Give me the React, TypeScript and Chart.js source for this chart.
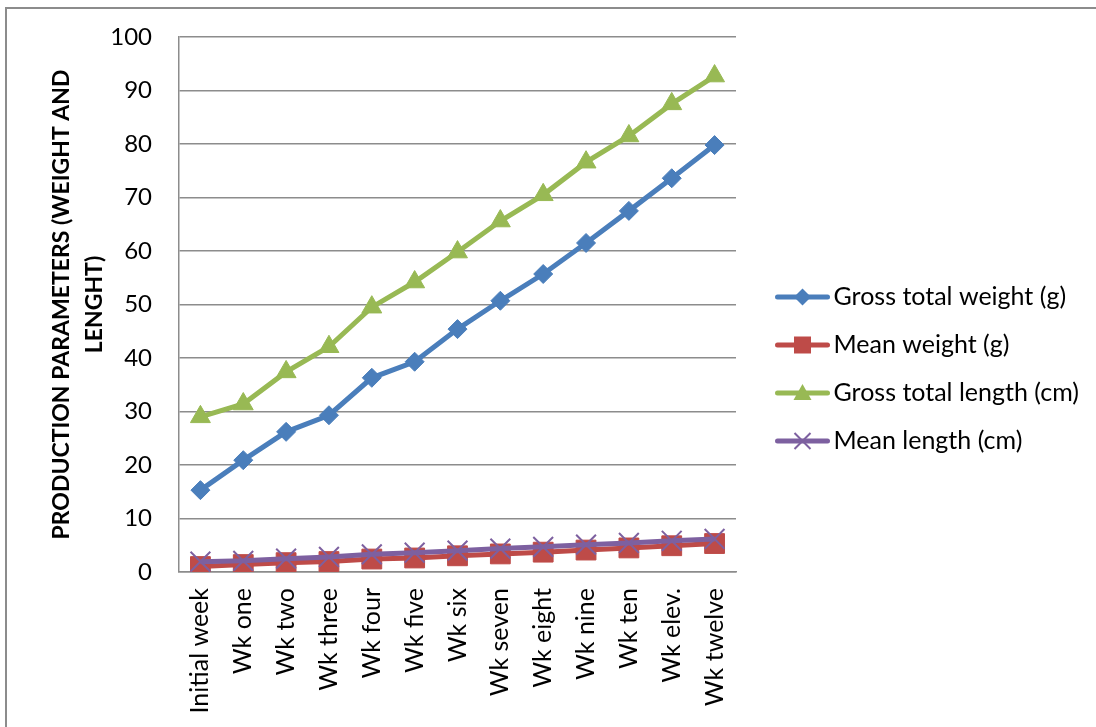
import React, { useEffect, useRef } from "react";
import { Chart, registerables } from "chart.js";

Chart.register(...registerables);

// Weeks of the trial
const weeks = [
  "Initial week", "Wk one", "Wk two", "Wk three", "Wk four", "Wk five", "Wk six",
  "Wk seven", "Wk eight", "Wk nine", "Wk ten", "Wk elev.", "Wk twelve",
];

// Production parameters per week
const grossTotalWeight = [15.3, 20.9, 26.2, 29.3, 36.3, 39.3, 45.4, 50.7, 55.7, 61.5, 67.5, 73.6, 79.8];
const meanWeight = [1.02, 1.39, 1.75, 1.95, 2.42, 2.62, 3.03, 3.38, 3.71, 4.10, 4.50, 4.91, 5.32];
const grossTotalLength = [29.0, 31.4, 37.4, 42.1, 49.5, 54.2, 59.8, 65.6, 70.5, 76.6, 81.5, 87.5, 92.7];
const meanLength = [1.93, 2.09, 2.49, 2.81, 3.30, 3.61, 3.99, 4.37, 4.70, 5.11, 5.43, 5.83, 6.18];

const seriesNames = ["Gross total weight (g)", "Mean weight (g)", "Gross total length (cm)", "Mean length (cm)"];
const yTicks = [0, 10, 20, 30, 40, 50, 60, 70, 80, 90, 100];
const yTitle = ["PRODUCTION PARAMETERS (WEIGHT AND", "LENGHT)"];

const BLUE = "#4A7EBB";
const RED = "#BE4B48";
const GREEN = "#98B954";
const PURPLE = "#7D60A0";
const GRID = "#8C8C8C";

const FONT = "Lato";
const Y_TICK_SIZE = 24;
const X_TICK_SIZE = 25;
const LEGEND_SIZE = 25;

// Layout of the page
const W = 1096;
const H = 727;
const PAD_LEFT = 45;
const PAD_TOP = 37;
const PLOT_LEFT = 179;
const PLOT_RIGHT = 736;
const PLOT_BOTTOM = 572;
const LEGEND_PAD = 23;
const LEGEND_BOX = 62;
const LEGEND_FIRST_Y = 297;
const ICON_W = 84;

// Legend swatch: a short thick line with the series marker in its middle
function makeLegendIcon(color: string, style: string): HTMLCanvasElement {
  const c = document.createElement("canvas");
  c.width = ICON_W;
  c.height = 28;
  const ctx = c.getContext("2d")!;
  const cy = 14;
  ctx.strokeStyle = color;
  ctx.lineWidth = 5;
  ctx.lineCap = "round";
  ctx.beginPath();
  ctx.moveTo(29.5, cy);
  ctx.lineTo(79.5, cy);
  ctx.stroke();
  const cx = 54.5;
  ctx.fillStyle = color;
  ctx.beginPath();
  if (style === "rectRot") {
    ctx.moveTo(cx, cy - 8.5);
    ctx.lineTo(cx + 8.5, cy);
    ctx.lineTo(cx, cy + 8.5);
    ctx.lineTo(cx - 8.5, cy);
    ctx.closePath();
    ctx.fill();
  } else if (style === "rect") {
    ctx.rect(cx - 8.5, cy - 8.5, 17, 17);
    ctx.fill();
  } else if (style === "triangle") {
    ctx.moveTo(cx, cy - 9);
    ctx.lineTo(cx + 9, cy + 7);
    ctx.lineTo(cx - 9, cy + 7);
    ctx.closePath();
    ctx.fill();
  } else {
    ctx.lineWidth = 2;
    ctx.lineCap = "butt";
    ctx.moveTo(cx - 8, cy - 8);
    ctx.lineTo(cx + 8, cy + 8);
    ctx.moveTo(cx + 8, cy - 8);
    ctx.lineTo(cx - 8, cy + 8);
    ctx.stroke();
  }
  return c;
}

export default function App() {
  const canvasRef = useRef<HTMLCanvasElement | null>(null);

  useEffect(() => {
    if (!canvasRef.current) return;

    const colors = [BLUE, RED, GREEN, PURPLE];
    const styles = ["rectRot", "rect", "triangle", "crossRot"];
    const icons = colors.map((c, i) => makeLegendIcon(c, styles[i]));

    // Reserve the right side for the legend so the plot ends at a fixed x
    const m = document.createElement("canvas").getContext("2d")!;
    m.font = `${LEGEND_SIZE}px ${FONT}`;
    const maxText = Math.max(...seriesNames.map((s) => m.measureText(s).width));
    const legendWidth = LEGEND_PAD + LEGEND_BOX + LEGEND_SIZE / 2 + maxText + 10;
    const rightPad = Math.max(0, W - PLOT_RIGHT - legendWidth);

    // Empty legend title used as a spacer above the first entry
    const legendSpacer = LEGEND_FIRST_Y - LEGEND_SIZE / 2 - LEGEND_PAD - PAD_TOP;

    const chart = new Chart(canvasRef.current, {
      type: "line",
      data: {
        labels: weeks,
        datasets: [
          {
            label: seriesNames[0],
            data: grossTotalWeight,
            borderColor: BLUE,
            backgroundColor: BLUE,
            borderWidth: 5,
            pointStyle: "rectRot",
            pointRadius: 9.5,
            pointBorderWidth: 1,
            order: 2,
          },
          {
            label: seriesNames[1],
            data: meanWeight,
            borderColor: RED,
            backgroundColor: RED,
            borderWidth: 5,
            pointStyle: "rect",
            pointRadius: 14,
            pointBorderWidth: 1,
            order: 3,
          },
          {
            label: seriesNames[2],
            data: grossTotalLength,
            borderColor: GREEN,
            backgroundColor: GREEN,
            borderWidth: 5,
            pointStyle: "triangle",
            pointRadius: 11.5,
            pointBorderWidth: 1,
            order: 1,
          },
          {
            label: seriesNames[3],
            data: meanLength,
            borderColor: PURPLE,
            backgroundColor: PURPLE,
            borderWidth: 5,
            pointStyle: "crossRot",
            pointRadius: 14,
            pointBorderWidth: 2,
            order: 0,
          },
        ],
      },
      options: {
        responsive: false,
        animation: false,
        events: [],
        layout: { padding: { left: PAD_LEFT, top: PAD_TOP, bottom: 0, right: rightPad } },
        elements: { line: { tension: 0 } },
        plugins: {
          tooltip: { enabled: false },
          legend: {
            position: "right",
            align: "start",
            maxWidth: 600,
            title: {
              display: true,
              text: "",
              font: { family: FONT, size: 1, lineHeight: 1 },
              padding: { top: legendSpacer - 1, bottom: 0 },
            },
            labels: {
              usePointStyle: true,
              pointStyleWidth: LEGEND_BOX,
              padding: LEGEND_PAD,
              color: "#000",
              font: { family: FONT, size: LEGEND_SIZE },
              generateLabels: () =>
                seriesNames.map((name, i) => ({
                  text: name,
                  fillStyle: colors[i],
                  strokeStyle: colors[i],
                  lineWidth: 0,
                  pointStyle: icons[i],
                  hidden: false,
                  datasetIndex: i,
                  fontColor: "#000",
                })),
            },
          },
        },
        scales: {
          x: {
            type: "category",
            offset: true,
            grid: { display: false, drawTicks: false },
            border: { display: true, color: GRID, width: 1.5 },
            ticks: {
              color: "#000",
              font: { family: FONT, size: X_TICK_SIZE },
              minRotation: 90,
              maxRotation: 90,
              padding: 16,
              autoSkip: false,
            },
            afterFit: (s: any) => {
              s.height = H - PLOT_BOTTOM;
            },
          },
          y: {
            min: 0,
            max: 100,
            afterBuildTicks: (s: any) => {
              s.ticks = yTicks.map((v) => ({ value: v }));
            },
            grid: { color: GRID, lineWidth: 1.5, drawTicks: true, tickLength: 24, tickColor: "rgba(0,0,0,0)" },
            border: { display: true, color: GRID, width: 1.5 },
            ticks: {
              color: "#000",
              font: { family: FONT, size: Y_TICK_SIZE },
              padding: 3,
            },
            title: {
              display: true,
              text: yTitle,
              color: "#000",
              font: { family: FONT, size: 23, weight: "bold", lineHeight: 1.45 },
              padding: 0,
            },
            afterFit: (s: any) => {
              s.width = PLOT_LEFT - PAD_LEFT;
            },
          },
        },
      },
    });

    return () => chart.destroy();
  }, []);

  return (
    <div style={{ position: "fixed", left: 0, top: 0, width: W, height: H, overflow: "hidden", background: "#fff" }}>
      <div
        style={{
          position: "absolute",
          left: 5,
          top: 7,
          width: 1200,
          height: 800,
          boxSizing: "border-box",
          border: `2px solid ${GRID}`,
        }}
      />
      <canvas ref={canvasRef} width={W} height={H} style={{ position: "absolute", left: 0, top: 0 }} />
    </div>
  );
}
